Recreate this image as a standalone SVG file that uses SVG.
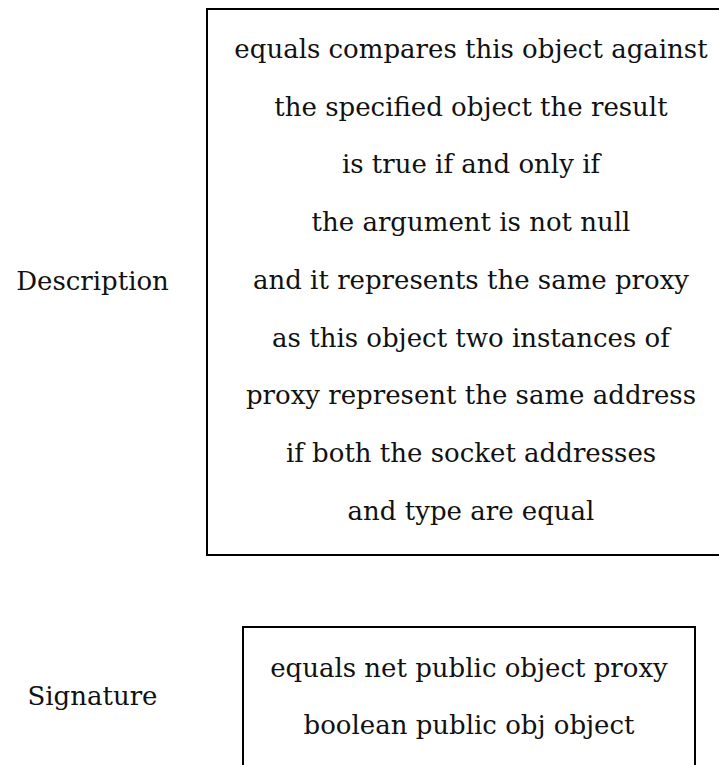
<svg xmlns="http://www.w3.org/2000/svg" width="719" height="765" viewBox="0 0 719 765">
<style>
.box{fill:#ffffff;stroke:#000000;stroke-width:2}
.t{font-family:"DejaVu Serif","Liberation Serif",serif;font-size:26px;fill:#111111;text-anchor:middle}
</style>
<rect x="0" y="0" width="719" height="765" fill="#ffffff"/>
<g id="description-label">
<text class="t" x="92.5" y="290">Description</text>
</g>
<g id="description-box">
<rect class="box" x="207" y="9" width="528" height="546"/>
<text class="t" x="471" y="58">equals compares this object against</text>
<text class="t" x="471" y="116">the specified object the result</text>
<text class="t" x="471" y="173">is true if and only if</text>
<text class="t" x="471" y="231">the argument is not null</text>
<text class="t" x="471" y="289">and it represents the same proxy</text>
<text class="t" x="471" y="347">as this object two instances of</text>
<text class="t" x="471" y="404">proxy represent the same address</text>
<text class="t" x="471" y="462">if both the socket addresses</text>
<text class="t" x="471" y="520">and type are equal</text>
</g>
<g id="signature-label">
<text class="t" x="92.5" y="705">Signature</text>
</g>
<g id="signature-box">
<rect class="box" x="243" y="627" width="452" height="160"/>
<text class="t" x="469" y="677">equals net public object proxy</text>
<text class="t" x="469" y="734">boolean public obj object</text>
</g>
<g id="connectors"></g>
</svg>
